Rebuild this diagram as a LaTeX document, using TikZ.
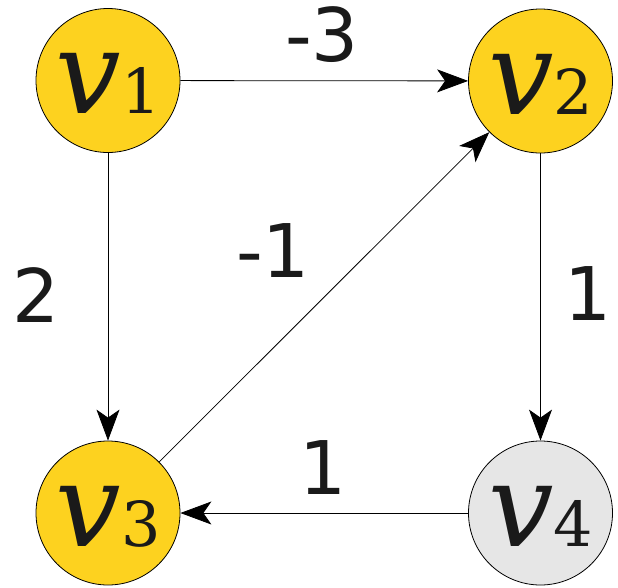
\documentclass[tikz,border=0pt]{standalone}
\usepackage{fontspec}
\setmainfont{DejaVu Sans}
\newfontfamily\vserif{DejaVu Serif}
\usetikzlibrary{arrows.meta}
\definecolor{vyellow}{HTML}{FDD21F}
\definecolor{vgray}{HTML}{E6E6E6}
\definecolor{inkc}{HTML}{1A1A1A}
\newcommand{\vlab}[1]{{\vserif\itshape\fontsize{116}{116}\selectfont v}{\vserif\fontsize{62}{62}\selectfont #1}}
\begin{document}
\begin{tikzpicture}[x=1pt,y=-1pt,
  vertex/.style={circle,draw=black,line width=0.8pt,minimum size=144pt,inner sep=0pt,
    text=inkc,text height=66pt,text depth=0pt},
  edge/.style={line width=0.8pt,draw=black,-{Stealth[length=31pt,width=23pt,inset=8pt]}},
  wlab/.style={text=inkc,font=\fontsize{74}{74}\selectfont,inner sep=0pt}]
\useasboundingbox (0,0) rectangle (618,587);
\node[vertex,fill=vyellow] (v1) at (108,80.5) {\vlab{1}};
\node[vertex,fill=vyellow] (v2) at (540.5,81) {\vlab{2}};
\node[vertex,fill=vyellow] (v3) at (108,513) {\vlab{3}};
\node[vertex,fill=vgray] (v4) at (540.5,513) {\vlab{4}};
\draw[edge] (v1) -- (v2);
\draw[edge] (v1) -- (v3);
\draw[edge] (v2) -- (v4);
\draw[edge] (v4) -- (v3);
\draw[edge] (v3) -- (v2);
\node[wlab] (l13) at (322,35) {-3};
\node[wlab] (l12) at (36,295) {2};
\node[wlab] (l32) at (273,251) {-1};
\node[wlab] (l24) at (588,294) {1};
\node[wlab] (l43) at (323,468) {1};
\end{tikzpicture}
\end{document}
